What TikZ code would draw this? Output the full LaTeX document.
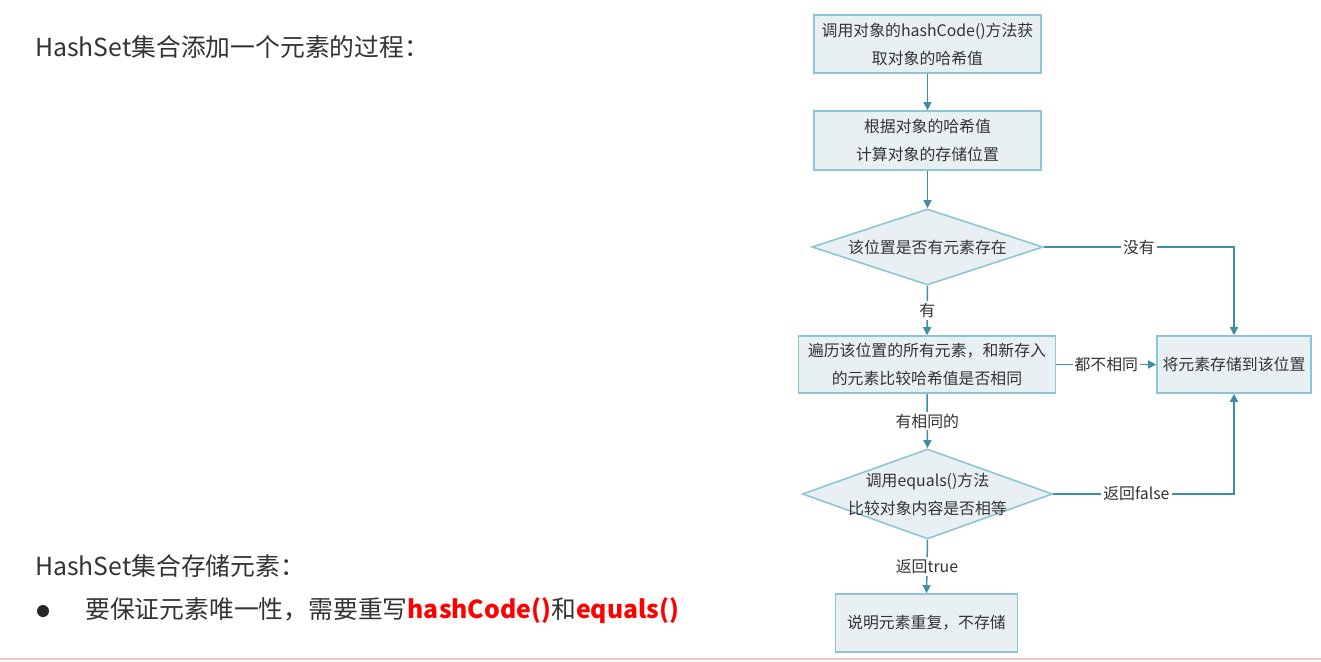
\documentclass[tikz,border=0pt]{standalone}
\usepackage{fontspec}
\setmainfont{Noto Sans CJK SC}
\usetikzlibrary{shapes.geometric,arrows.meta}
\definecolor{boxfill}{HTML}{E9F0F3}
\definecolor{boxline}{HTML}{8CC6D6}
\definecolor{conn}{HTML}{3C8FA6}
\definecolor{txt}{HTML}{333333}
\definecolor{pinkline}{HTML}{F3C4C6}
\tikzset{
  stepbox/.style={draw=boxline, fill=boxfill, line width=1.2pt, rectangle, align=center,
    inner sep=0pt, text=txt, font=\fontsize{11.9}{21}\selectfont},
  decide/.style={draw=boxline, fill=boxfill, line width=1.2pt, diamond, inner sep=0pt},
  dtext/.style={align=center, text=txt, font=\fontsize{11.9}{21}\selectfont, inner sep=0pt},
  conn/.style={draw=conn, line width=1.1pt, -{Triangle[length=6pt,width=6pt]}},
  lbl/.style={fill=white, text=txt, font=\fontsize{11.9}{13}\selectfont, inner sep=1.5pt},
  bigtxt/.style={text=txt, font=\fontsize{18.6}{22}\selectfont, inner sep=0pt, anchor=west}
}
\begin{document}
\begin{tikzpicture}[x=0.75pt,y=-0.75pt]
\useasboundingbox (0,0) rectangle (1321,661);
% left texts
\node[bigtxt] (t1) at (35,47) {HashSet集合添加一个元素的过程：};
\node[bigtxt] (t2) at (35,566) {HashSet集合存储元素：};
\fill[black!85] (43,611) circle (6);
\node[bigtxt] (t3) at (85,611) {要保证元素唯一性，需要重写\textcolor{red}{\textbf{hashCode()}}和\textcolor{red}{\textbf{equals()}}};
\draw[pinkline, line width=1pt] (0,659) -- (1321,659);
% flowchart nodes
\node[stepbox, minimum width=170.25pt, minimum height=43.5pt] (b1) at (927.5,44) {调用对象的hashCode()方法获\\取对象的哈希值};
\node[stepbox, minimum width=170.25pt, minimum height=44.25pt] (b2) at (927.5,140.5) {根据对象的哈希值\\计算对象的存储位置};
\node[decide, minimum width=173.25pt, minimum height=57pt] (d1) at (927.5,247) {};
\node[dtext] (d1t) at (d1) {该位置是否有元素存在};
\node[stepbox, minimum width=192.75pt, minimum height=42.75pt] (b3) at (927,364.5) {遍历该位置的所有元素，和新存入\\的元素比较哈希值是否相同};
\node[stepbox, minimum width=115.5pt, minimum height=42.75pt] (b4) at (1234,364.5) {将元素存储到该位置};
\node[decide, minimum width=187.5pt, minimum height=67.5pt] (d2) at (927.5,494) {};
\node[dtext] (d2t) at (d2) {调用equals()方法\\比较对象内容是否相等};
\node[stepbox, minimum width=136.5pt, minimum height=43.5pt] (b5) at (926.5,623) {说明元素重复，不存储};
% connectors
\draw[conn] (b1) -- (b2);
\draw[conn] (b2) -- (d1);
\draw[conn] (d1.south) -- node[lbl] {有} (b3.north);
\draw[conn] (d1.east) -| node[lbl, pos=0.25] {没有} (b4.north);
\draw[conn] (b3.east) -- node[lbl] {都不相同} (b4.west);
\draw[conn] (b3.south) -- node[lbl] {有相同的} (d2.north);
\draw[conn] (d2.east) -| node[lbl, pos=0.23] {返回false} (b4.south);
\draw[conn] (d2.south) -- node[lbl] {返回true} (b5.north);
\end{tikzpicture}
\end{document}
